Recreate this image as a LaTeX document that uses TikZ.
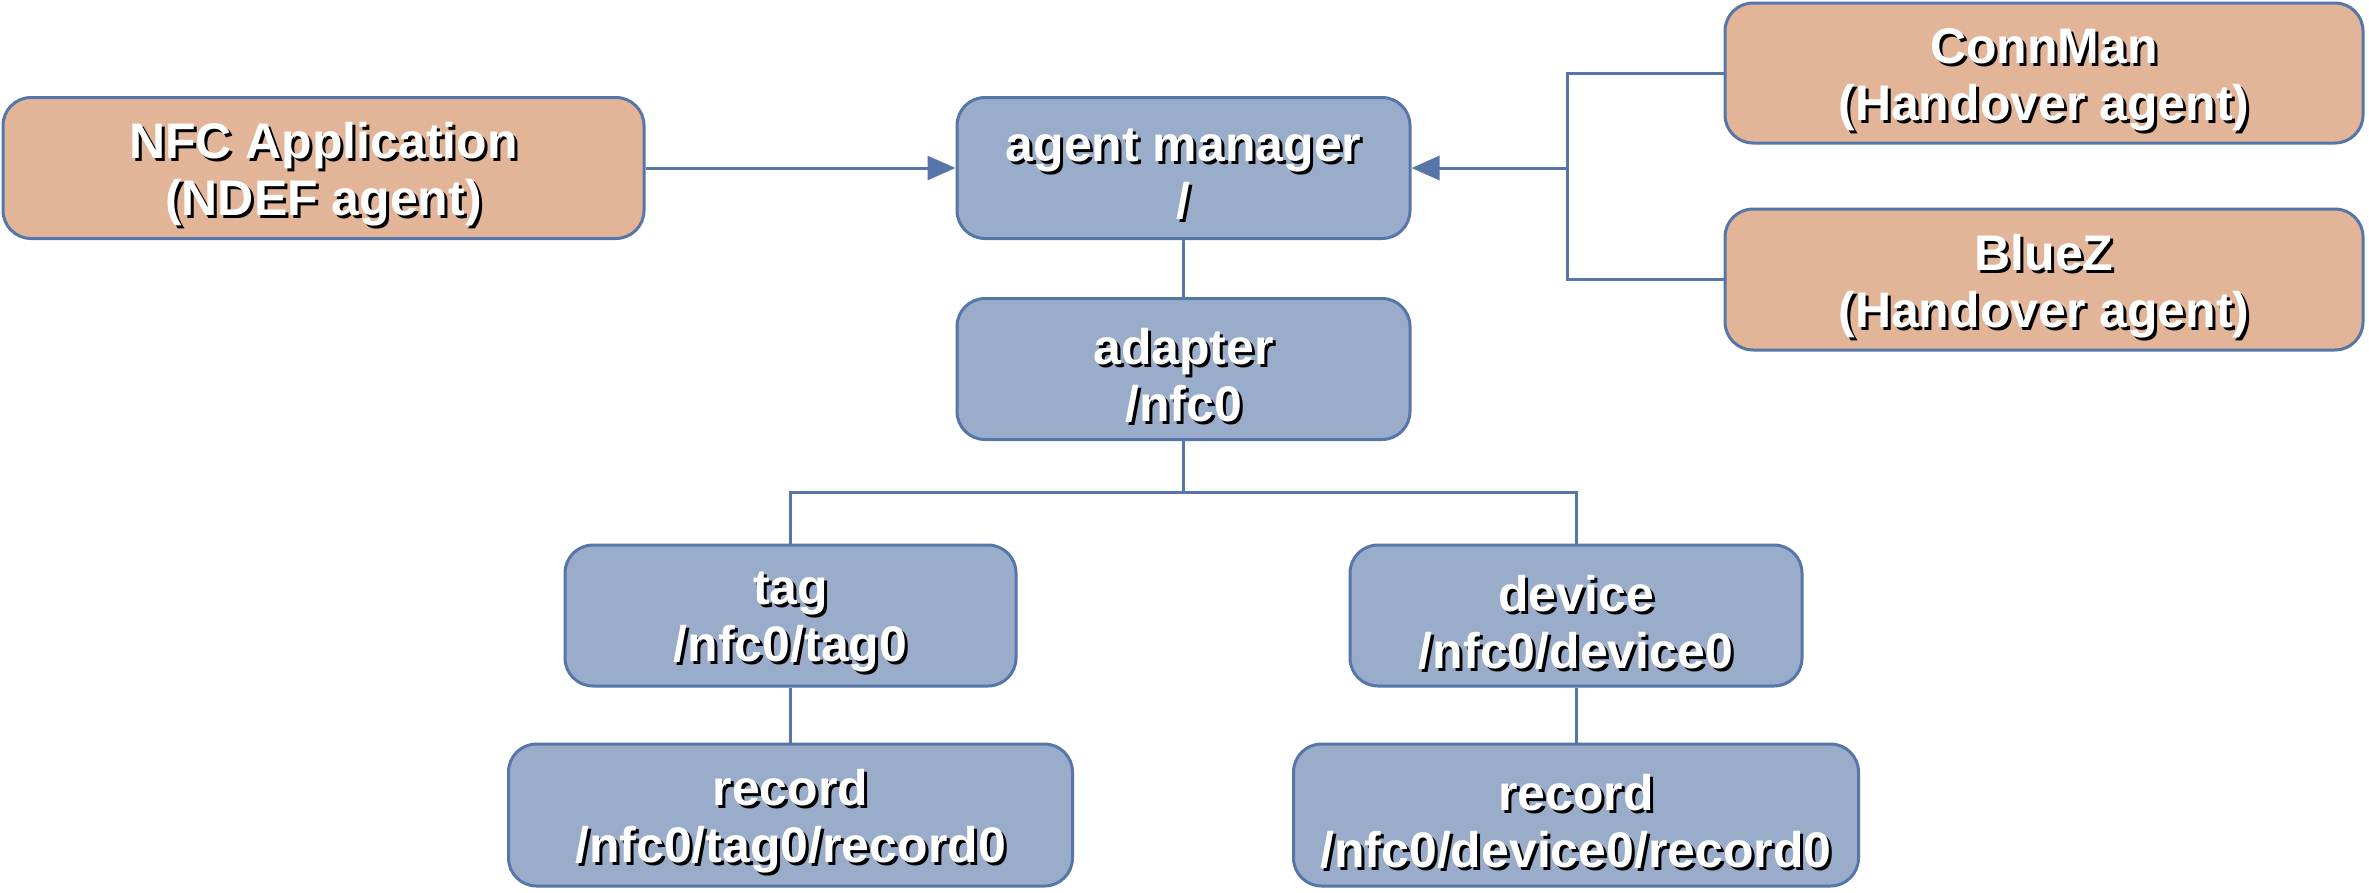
\documentclass[tikz,border=0pt]{standalone}
\usepackage{fontspec}
\setmainfont{Liberation Sans}
\usetikzlibrary{arrows.meta}
\definecolor{boxblue}{HTML}{99ADCB}
\definecolor{boxorange}{HTML}{E2B498}
\definecolor{edgeblue}{HTML}{5676A9}
% white bold line of text with a dark drop shadow
\newcommand\shline[1]{\rlap{\kern3pt\raisebox{-3pt}{\color{black}#1}}{\color{white}#1}}
\tikzset{
  boxtext/.style={align=center, inner sep=0pt, font=\bfseries\fontsize{50}{57}\selectfont},
  objbox/.style={draw=edgeblue, line width=3pt, rounded corners=28pt, fill=boxblue,
    inner sep=0pt},
  agentbox/.style={objbox, fill=boxorange},
  caption/.style={label={[boxtext, yshift=-8pt]center:{#1}}},
  link/.style={draw=edgeblue, line width=3pt},
  arr/.style={link, -{Triangle[length=28pt, width=24pt]}}
}
\begin{document}
\begin{tikzpicture}[x=1pt,y=1pt]
\useasboundingbox (0,0) rectangle (2369,-892);
\node[agentbox, minimum width=641pt, minimum height=141pt,
  caption={\shline{NFC Application}\\\shline{(NDEF agent)}}] (app) at (323.5,-168) {};
\node[objbox, minimum width=453pt, minimum height=141pt,
  caption={\shline{agent manager}\\\shline{/}}] (mgr) at (1183.5,-168) {};
\node[agentbox, minimum width=638pt, minimum height=140pt,
  caption={\shline{ConnMan}\\\shline{(Handover agent)}}] (conn) at (2044,-73) {};
\node[agentbox, minimum width=638pt, minimum height=141pt,
  caption={\shline{BlueZ}\\\shline{(Handover agent)}}] (bluez) at (2044,-279.5) {};
\node[objbox, minimum width=453pt, minimum height=141pt,
  caption={\shline{adapter}\\\shline{/nfc0}}] (adapter) at (1183.5,-369) {};
\node[objbox, minimum width=451pt, minimum height=141pt,
  caption={\shline{tag}\\\shline{/nfc0/tag0}}] (tag) at (790.5,-615.5) {};
\node[objbox, minimum width=452pt, minimum height=141pt,
  caption={\shline{device}\\\shline{/nfc0/device0}}] (device) at (1576,-615.5) {};
\node[objbox, minimum width=564pt, minimum height=142pt,
  caption={\shline{record}\\\shline{/nfc0/tag0/record0}}] (rec1) at (790.5,-815) {};
\node[objbox, minimum width=565pt, minimum height=142pt,
  caption={\shline{record}\\\shline{/nfc0/device0/record0}}] (rec2) at (1576,-815) {};

\coordinate (join) at (1567,-168);
\coordinate (split) at (1183.5,-492);

\draw[arr] (app.east) -- (mgr.west);
\draw[link] (conn.west) -| (join) |- (bluez.west);
\draw[arr] (join) -- (mgr.east);
\draw[link] (mgr.south) -- (adapter.north);
\draw[link] (adapter.south) -- (split);
\draw[link] (tag.north) |- (split) -| (device.north);
\draw[link] (tag.south) -- (rec1.north);
\draw[link] (device.south) -- (rec2.north);
\end{tikzpicture}
\end{document}
